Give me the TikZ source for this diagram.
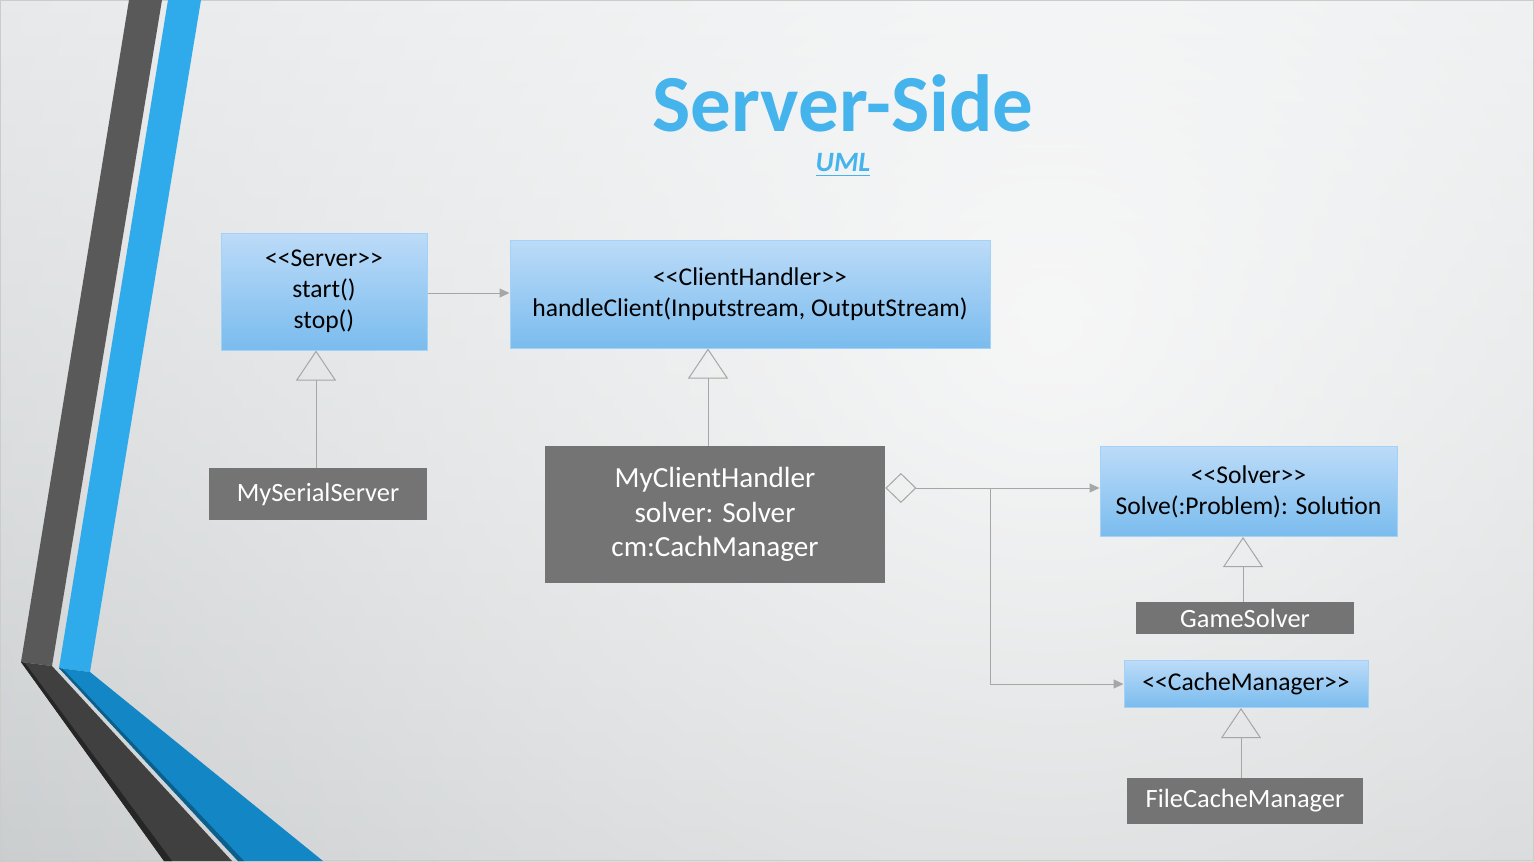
\documentclass[tikz,border=0pt]{standalone}
\usepackage{fontspec}
\setmainfont{Carlito}
\usetikzlibrary{arrows.meta,positioning,fadings}
\definecolor{bgtop}{HTML}{DCDFE1}
\definecolor{bgbottom}{HTML}{B6BABC}
\definecolor{bandgray}{HTML}{595959}
\definecolor{banddark}{HTML}{404040}
\definecolor{bandblue}{HTML}{2FABEB}
\definecolor{banddeep}{HTML}{1387C6}
\definecolor{titleblue}{HTML}{45B3EC}
\definecolor{boxtop}{HTML}{BCDBF8}
\definecolor{boxbottom}{HTML}{7ABCEE}
\definecolor{boxline}{HTML}{A4D2F6}
\definecolor{classgray}{HTML}{747474}
\definecolor{linkgray}{HTML}{A6A6A6}
\newcommand\stereo[1]{\textless\kern0pt\textless#1\textgreater\kern0pt\textgreater}
\tikzfading[name=glow, inner color=transparent!0, outer color=transparent!100]
\tikzset{
    iface/.style={rectangle, draw=boxline, line width=0.5pt, top color=boxtop, bottom color=boxbottom, align=center, inner sep=0pt, font=\fontsize{12.8}{15.5}\selectfont},
    impl/.style={rectangle, fill=classgray, text=white, align=center, inner sep=0pt, font=\fontsize{13.2}{15}\selectfont},
    link/.style={draw=linkgray, line width=0.5pt},
    uses/.style={link, -{Triangle[length=5pt, width=4.5pt, fill=linkgray]}},
    extends/.style={link, -{Triangle[open, length=15pt, width=20pt, fill=none]}},
    holds/.style={link, {Diamond[open, length=15.5pt, width=15pt, fill=none]}-}
}
\begin{document}
\begin{tikzpicture}[x=0.5pt, y=-0.5pt]
            \useasboundingbox (0,0) rectangle (1534,861);
            % background
            \begin{scope}
            \clip (0,0) rectangle (1534,861);
            \shade[top color=bgtop, bottom color=bgbottom] (0,0) rectangle (1534,861);
            \fill[white, path fading=glow, fill opacity=0.82] (1050,330) circle (1800);
            \end{scope}
            \draw[black!20, line width=0.5pt] (0.5,0.5) rectangle (1533.5,860.5);
            % side bands
            \fill[bandgray] (129,0) -- (162,0) -- (52,666) -- (21,662) -- cycle;
            \fill[bandblue] (168,0) -- (201,0) -- (90,672) -- (59,668) -- cycle;
            \fill[banddark] (21,662) -- (52,666) -- (232,861) -- (164,861) -- cycle;
            \fill[black!85] (21,662) -- (25,663) -- (172,861) -- (164,861) -- cycle;
            \fill[banddeep] (59,668) -- (90,672) -- (323,861) -- (238,861) -- cycle;
            \fill[banddeep!70!black] (59,668) -- (63,669) -- (244,861) -- (238,861) -- cycle;
            % title
            \node(title) at (843,103) {\fontsize{40.5}{48}\selectfont\bfseries\color{titleblue}Server-Side};
            \node(uml) at (843,165) {\fontsize{14}{16}\selectfont\bfseries\itshape\color{titleblue}\underline{UML}};
            % classes
            \node(Server)[iface, minimum width=103pt, minimum height=58.5pt] at (324,291.5) {\stereo{Server}\\start()\\stop()};
            \node(ClientHandler)[iface, minimum width=240pt, minimum height=54pt] at (750,294) {\stereo{ClientHandler}\\handleClient(Inputstream, OutputStream)};
            \node(MySerialServer)[impl, minimum width=109pt, minimum height=26pt] at (318,494) {MySerialServer};
            \node(MyClientHandler)[impl, minimum width=170pt, minimum height=68.5pt, font=\fontsize{14.6}{17.25}\selectfont] at (715,514.5) {MyClientHandler\\solver: Solver\\cm:CachManager};
            \node(Solver)[iface, minimum width=148.5pt, minimum height=45pt] at (1248.5,491.5) {\stereo{Solver}\\Solve(:Problem): Solution};
            \node(GameSolver)[impl, minimum width=109pt, minimum height=16pt] at (1245,618) {GameSolver};
            \node(CacheManager)[iface, minimum width=122pt, minimum height=23.5pt] at (1246,684) {\stereo{CacheManager}};
            \node(FileCacheManager)[impl, minimum width=118pt, minimum height=23pt] at (1245,801) {FileCacheManager};
            \coordinate(split) at (990,488);
            % connectors
            \draw[uses]([yshift=-0.75pt]Server.east) -- ([yshift=-0.75pt]Server.east -| ClientHandler.west);
            \draw[extends](MySerialServer.north -| 316,0) -- (Server.south -| 316,0);
            \draw[extends](MyClientHandler.north -| 708,0) -- (ClientHandler.south -| 708,0);
            \draw[extends](GameSolver.north -| 1243,0) -- (Solver.south -| 1243,0);
            \draw[extends](FileCacheManager.north -| 1241,0) -- (CacheManager.south -| 1241,0);
            \draw[holds]([yshift=13.25pt]MyClientHandler.east) -- (split);
            \draw[uses](split) -- (split -| Solver.west);
            \draw[uses](split) |- (CacheManager.west);
            \end{tikzpicture}
\end{document}
